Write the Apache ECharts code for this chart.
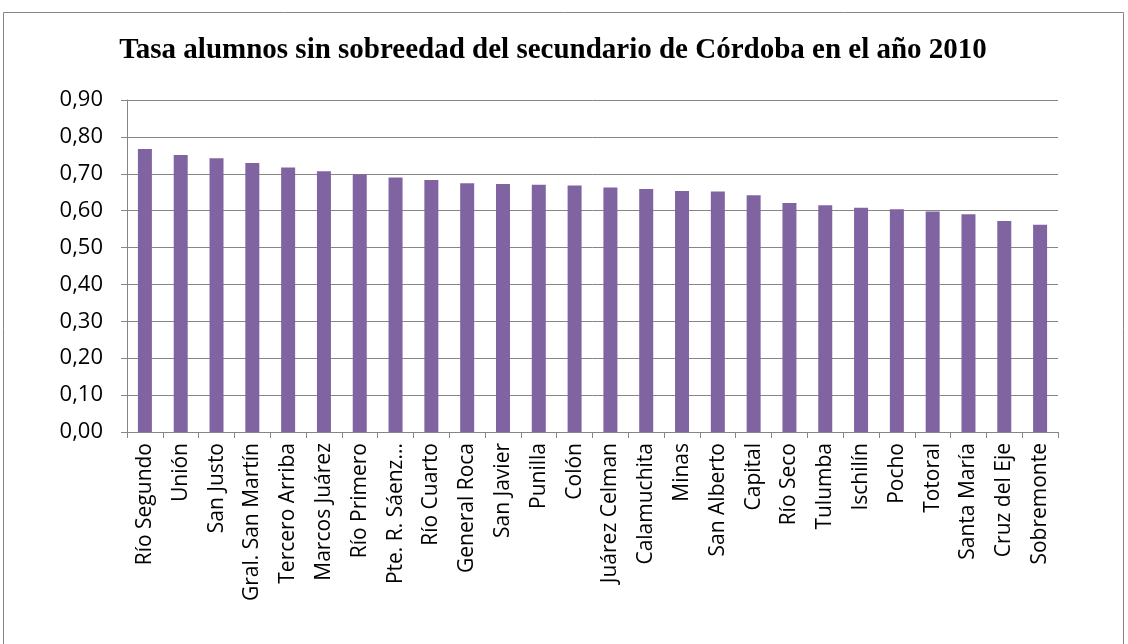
<!DOCTYPE html>
<html>
<head>
    <meta charset="utf-8">
    <title>Tasa alumnos sin sobreedad</title>
    <script src="https://cdn.jsdelivr.net/npm/echarts@6/dist/echarts.min.js"></script>
    <style>
        html, body { margin: 0; padding: 0; background: #fff; }
        #chart { width: 1128px; height: 644px; }
    </style>
</head>
<body>
<div id="chart"></div>
<script>
    var titleText = 'Tasa alumnos sin sobreedad del secundario de Córdoba en el año 2010';
    var departamentos = ['Río Segundo', 'Unión', 'San Justo', 'Gral. San Martín', 'Tercero Arriba',
        'Marcos Juárez', 'Río Primero', 'Pte. R. Sáenz...', 'Río Cuarto', 'General Roca',
        'San Javier', 'Punilla', 'Colón', 'Juárez Celman', 'Calamuchita', 'Minas',
        'San Alberto', 'Capital', 'Río Seco', 'Tulumba', 'Ischilín', 'Pocho', 'Totoral',
        'Santa María', 'Cruz del Eje', 'Sobremonte'];
    var tasa = [0.767, 0.751, 0.742, 0.729, 0.717, 0.707, 0.699, 0.690, 0.683, 0.674,
        0.672, 0.670, 0.668, 0.663, 0.659, 0.653, 0.652, 0.642, 0.621, 0.615, 0.608,
        0.604, 0.598, 0.590, 0.572, 0.562];

    var chart = echarts.init(document.getElementById('chart'), null, {renderer: 'canvas'});
    var option = {
        backgroundColor: '#fff',
        animation: false,
        title: {
            text: titleText,
            left: 548,
            top: 31,
            textAlign: 'center',
            textStyle: {
                fontFamily: 'Liberation Serif',
                fontWeight: 'bold',
                fontSize: 29,
                color: '#000'
            }
        },
        graphic: [{
            type: 'rect',
            shape: {x: 3.5, y: 12.5, width: 1120, height: 660},
            style: {fill: null, stroke: '#868686', lineWidth: 1},
            silent: true
        }],
        grid: {left: 127, right: 70, top: 100, bottom: 212},
        xAxis: {
            type: 'category',
            data: departamentos,
            axisLine: {lineStyle: {color: '#868686', width: 1}},
            axisTick: {show: true, length: 6, lineStyle: {color: '#868686'}},
            axisLabel: {
                rotate: 90,
                interval: 0,
                margin: 11,
                fontFamily: 'Open Sans',
                fontSize: 21,
                color: '#000'
            }
        },
        yAxis: {
            type: 'value',
            min: 0,
            max: 0.9,
            interval: 0.1,
            axisLine: {show: true, lineStyle: {color: '#868686', width: 1}},
            axisTick: {show: true, length: 6, lineStyle: {color: '#868686'}},
            splitLine: {lineStyle: {color: '#868686', width: 1}},
            axisLabel: {
                margin: 24,
                fontFamily: 'Open Sans',
                fontSize: 22,
                color: '#000',
                formatter: function (v) { return v.toFixed(2).replace('.', ','); }
            }
        },
        series: [{
            type: 'bar',
            data: tasa,
            barWidth: 14,
            itemStyle: {color: '#8064A2'}
        }]
    };
    chart.setOption(option);
</script>
</body>
</html>
